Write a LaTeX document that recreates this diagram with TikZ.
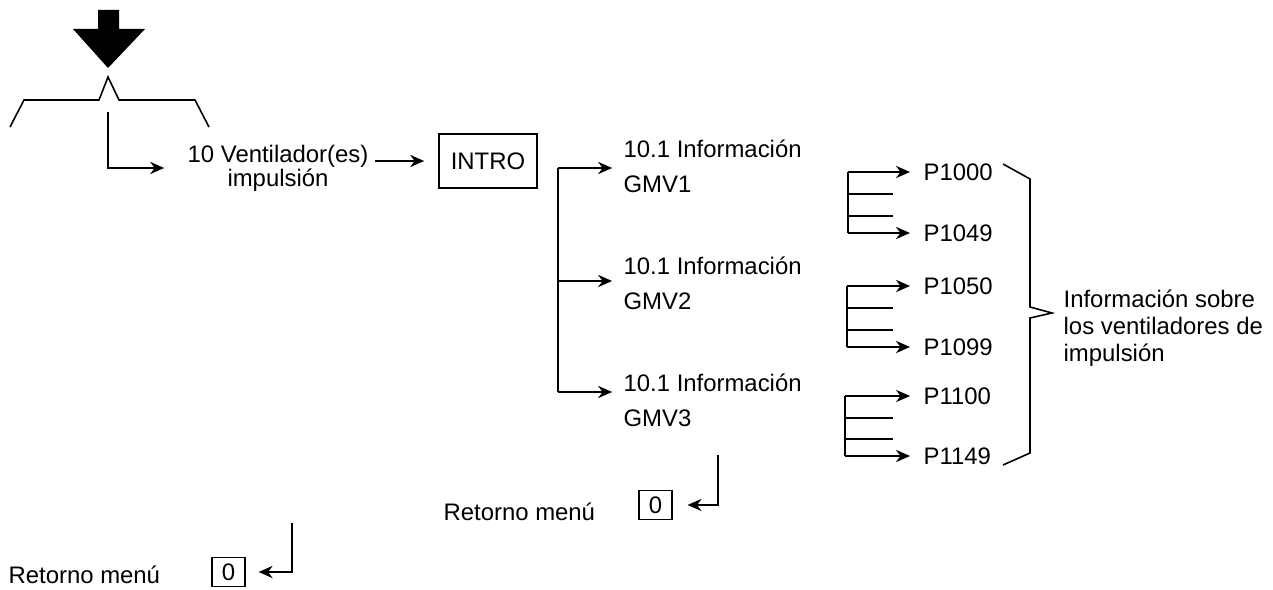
\documentclass[tikz,border=0pt]{standalone}
\usepackage{fontspec}
\setmainfont{Liberation Sans}
\usetikzlibrary{arrows.meta, positioning, calc}

\begin{document}
\begin{tikzpicture}[x=0.02cm, y=-0.02cm, line width=0.9pt,
    >={Stealth[length=8pt,width=7pt]},
    every node/.style={font=\fontsize{13.6}{12}\selectfont},
    txt/.style={align=left},
    two/.style={align=left, font=\fontsize{13.6}{19.8}\selectfont},
    zero/.style={draw, line width=0.7pt, minimum width=0.66cm, minimum height=0.58cm, inner sep=0pt}]
    \useasboundingbox (0,0) rectangle (1273,590);
    \fill (98,10) -- (119,10) -- (119,29) -- (145,29) -- (108,68) -- (73,29) -- (98,29) -- cycle;
    \draw (10,127) -- (24,100) -- (99,100) -- (108,77) -- (119,100) -- (195,100) -- (209,127);
    \coordinate (top) at (108,112);
    \node[align=center] (vent) at (278,168) {10 Ventilador(es)\\impulsión};
    \node[draw, minimum width=1.96cm, minimum height=1.08cm] (intro) at (488,161) {INTRO};
    \draw[->, shorten >=9.6pt] (top) |- (vent.west);
    \draw[->, shorten >=8pt] (vent.east |- intro) -- (intro.west);
    \node[two, anchor=west] (g1) at (617,166) {10.1 Información\\GMV1};
    \node[two, anchor=west] (g2) at (617,283) {10.1 Información\\GMV2};
    \node[two, anchor=west] (g3) at (617,400) {10.1 Información\\GMV3};
    \coordinate (b1) at (558,168);
    \coordinate (b2) at (558,281);
    \coordinate (b3) at (558,392);
    \draw (b1) -- (b3);
    \draw[->, shorten >=2.8pt] (b1) -- (b1 -| g1.west);
    \draw[->, shorten >=2.8pt] (b2) -- (b2 -| g2.west);
    \draw[->, shorten >=2.8pt] (b3) -- (b3 -| g3.west);
    \foreach \i/\x/\ya/\yb/\yc/\yd/\pa/\pb in {1/848/172/194/216/233/P1000/P1049,
        2/847/286/308/330/347/P1050/P1099, 3/845/396/418/439/456/P1100/P1149}{
      \node[anchor=west] (pa\i) at (917,\ya) {\pa};
      \node[anchor=west] (pb\i) at (917,\yd) {\pb};
      \coordinate (fa\i) at (\x,\ya);
      \coordinate (fb\i) at (\x,\yd);
      \coordinate (sb\i) at (893,\yb);
      \coordinate (sc\i) at (893,\yc);
      \draw (fa\i) -- (fb\i);
      \draw[->, shorten >=4pt] (fa\i) -- (pa\i);
      \draw[->, shorten >=4pt] (fb\i) -- (pb\i);
      \draw (fa\i |- sb\i) -- (sb\i);
      \draw (fa\i |- sc\i) -- (sc\i);
    }
    \draw (1003,164) -- (1030,179) -- (1030,307) -- (1052,313) -- (1030,318) -- (1030,453) -- (1003,465);
    \node[txt, anchor=west, font=\fontsize{13.6}{15.3}\selectfont] (info) at (1057,328) {Información sobre\\los ventiladores de\\impulsión};
    \node[anchor=west] (r1) at (437,512) {Retorno menú};
    \node[zero] (z1) at (655.5,505) {0};
    \coordinate (c1) at (718,455);
    \draw[->, shorten >=8.5pt] (c1) |- (z1.east);
    \node[anchor=west] (r2) at (2,575) {Retorno menú};
    \node[zero] (z2) at (228.5,572) {0};
    \coordinate (c2) at (292,523);
    \draw[->, shorten >=7.4pt] (c2) |- (z2.east);
\end{tikzpicture}
\end{document}
